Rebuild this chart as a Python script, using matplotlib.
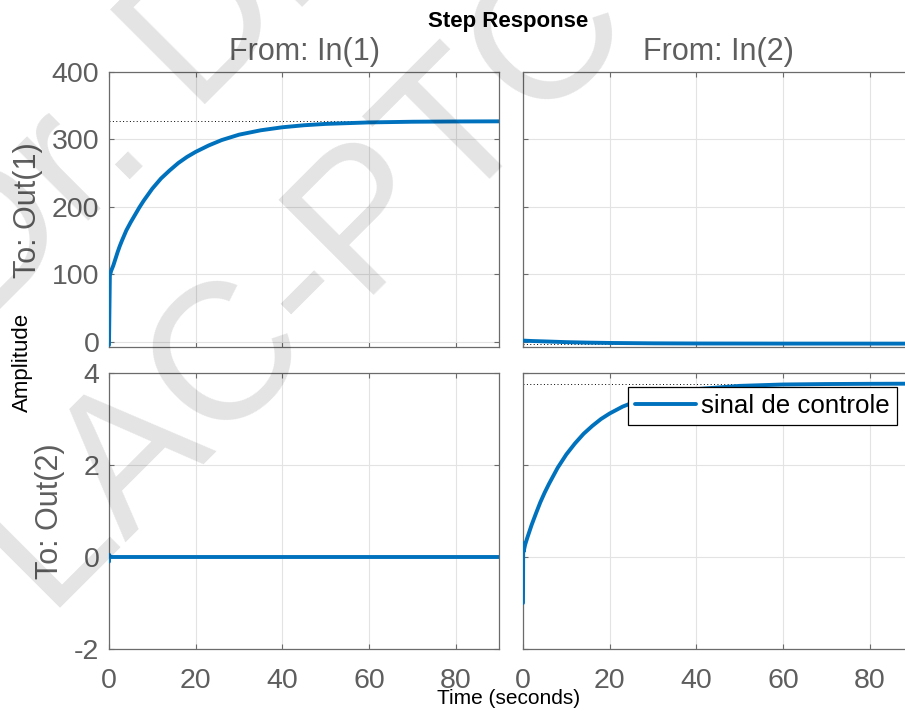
import matplotlib
matplotlib.use("Agg")
import matplotlib.pyplot as plt

plt.rcParams['font.family'] = ['Liberation Sans', 'DejaVu Sans']
plt.rcParams['axes.unicode_minus'] = False

# ---------------- data ----------------
title = "Step Response"
col_titles = ["From: In(1)", "From: In(2)"]
row_titles = ["To: Out(1)", "To: Out(2)"]
xlabel = "Time (seconds)"
ylabel = "Amplitude"
legend_label = "sinal de controle"

x_ticks = [0, 20, 40, 60, 80]
y_ticks_top = [0, 100, 200, 300, 400]
y_ticks_bottom = [-2, 0, 2, 4]

# In(1) -> Out(1)
t11 = [0, 0.2, 0.5, 1, 1.5, 2, 2.5, 3, 4, 5, 6, 7, 8, 10, 12, 14, 16, 18, 20,
       23, 26, 30, 35, 40, 45, 50, 60, 70, 80, 90]
y11 = [-5, 98, 105, 113, 123, 133, 142, 150, 165, 177, 188, 199, 209, 227, 242,
       254, 265, 274, 281.5, 291, 299, 307, 313.5, 318, 321, 323, 325.2, 326.2,
       326.6, 326.8]
ss11 = 327.0

# In(2) -> Out(1)
t12 = [0, 2, 5, 10, 15, 20, 30, 40, 60, 90]
y12 = [1.5, 0.9, 0.3, -0.8, -1.5, -2.0, -2.55, -2.8, -2.95, -3.0]
ss12 = -3.0

# In(1) -> Out(2)
t21 = [0, 0.02, 0.3, 90]
y21 = [-0.1, 0.05, 0.0, 0.0]
ss21 = 0.0

# In(2) -> Out(2)
t22 = [0, 0.05, 0.15, 0.5, 1, 2, 3, 4, 5, 6, 8, 10, 12, 14, 16, 18, 20, 23, 26,
       30, 35, 40, 50, 60, 70, 80, 90]
y22 = [-1.0, 0.3, 0.12, 0.27, 0.42, 0.70, 0.95, 1.19, 1.40, 1.59, 1.94, 2.23,
       2.47, 2.68, 2.85, 3.00, 3.12, 3.27, 3.38, 3.50, 3.59, 3.65, 3.72, 3.75,
       3.76, 3.765, 3.768]
ss22 = 3.77

# ---------------- styling ----------------
W, H = 905, 714
BLUE = "#0072BD"
SPINE = "#6b6b6b"
TICKC = "#5e5e5e"
GRID = "#e3e3e3"

fig = plt.figure(figsize=(W / 100, H / 100), dpi=100)

def px_rect(left, top, right, bottom):
    return [left / W, 1 - bottom / H, (right - left) / W, (bottom - top) / H]

rects = {
    (0, 0): px_rect(109, 72, 499, 347),
    (0, 1): px_rect(523, 72, 913, 347),
    (1, 0): px_rect(109, 373, 499, 649),
    (1, 1): px_rect(523, 373, 913, 649),
}
data = {
    (0, 0): (t11, y11, ss11),
    (0, 1): (t12, y12, ss12),
    (1, 0): (t21, y21, ss21),
    (1, 1): (t22, y22, ss22),
}

axes = {}
for (r, c), rect in rects.items():
    ax = fig.add_axes(rect)
    axes[(r, c)] = ax
    t, y, ss = data[(r, c)]
    ax.axhline(ss, color="black", lw=0.7, ls=(0, (1, 2.5)), zorder=2)
    line, = ax.plot(t, y, color=BLUE, lw=2.8, solid_capstyle="round",
                    solid_joinstyle="round", zorder=3)
    if (r, c) == (1, 1):
        legend_line = line
    ax.set_xlim(0, 90)
    if r == 0:
        ax.set_ylim(-8, 400)
        ax.set_yticks(y_ticks_top)
    else:
        ax.set_ylim(-2, 4)
        ax.set_yticks(y_ticks_bottom)
    ax.set_xticks(x_ticks)
    ax.grid(True, color=GRID, lw=0.8)
    ax.set_axisbelow(True)
    for s in ax.spines.values():
        s.set_color(SPINE)
        s.set_linewidth(0.9)
    ax.tick_params(axis="both", direction="in", length=3.5, width=0.8,
                   color=SPINE, top=True, right=True, labelsize=20.5,
                   labelcolor=TICKC)
    ax.tick_params(axis="x", pad=13.5)
    ax.tick_params(axis="y", pad=7)
    if r == 0:
        ax.tick_params(labelbottom=False)
    if c == 1:
        ax.tick_params(labelleft=False)

# legend
leg = axes[(1, 1)].legend([legend_line], [legend_label], loc="upper right",
                          bbox_to_anchor=(897 / W, 1 - 387 / H),
                          bbox_transform=fig.transFigure, borderaxespad=0,
                          fontsize=18.6, frameon=True, fancybox=False,
                          framealpha=1, edgecolor="black", handlelength=2.35,
                          handletextpad=0.2, borderpad=0.28)
leg.get_frame().set_linewidth(0.9)

# column titles
fig.text(304 / W, 1 - 60 / H, col_titles[0], ha="center", va="baseline",
         fontsize=22, color=TICKC)
fig.text(718 / W, 1 - 60 / H, col_titles[1], ha="center", va="baseline",
         fontsize=22, color=TICKC)
# row titles
fig.text(36 / W, 1 - 210 / H, row_titles[0], ha="center", va="baseline",
         rotation=90, rotation_mode="anchor", fontsize=22, color=TICKC)
fig.text(58 / W, 1 - 511 / H, row_titles[1], ha="center", va="baseline",
         rotation=90, rotation_mode="anchor", fontsize=22, color=TICKC)

# overall labels
fig.text(508.5 / W, 1 - 27 / H, title, ha="center", va="baseline",
         fontsize=16, fontweight="bold", color="black")
fig.text(508.5 / W, 1 - 704 / H, xlabel, ha="center", va="baseline",
         fontsize=15, color="black")
fig.text(28 / W, 1 - 362 / H, ylabel, ha="center", va="baseline",
         rotation=90, rotation_mode="anchor", fontsize=16, color="black")

# watermark
wm_kw = dict(rotation=45, rotation_mode="anchor", ha="left", va="baseline",
             fontsize=140, color="black", alpha=0.11, zorder=10)
fig.text(-348 / W, 1 - 658 / H, "Prof. Dr. Diego Colón", **wm_kw)
fig.text(45 / W, 1 - 608 / H, "LAC-PTC", **wm_kw)

fig.savefig("out.png", dpi=100)
